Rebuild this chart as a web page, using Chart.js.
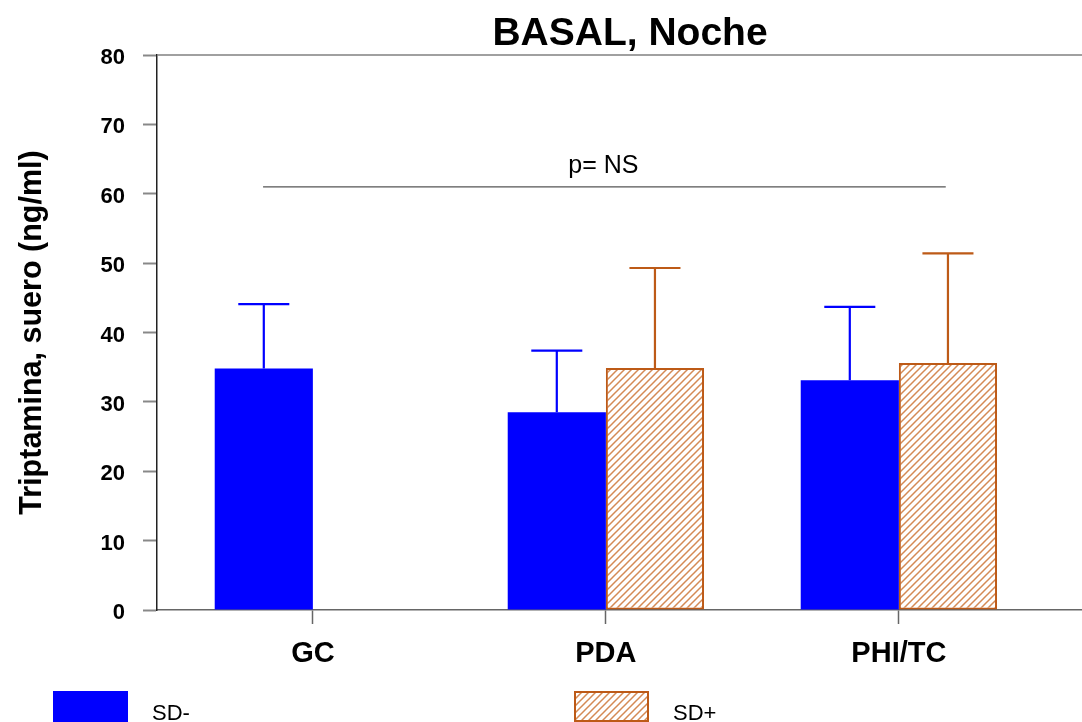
<!DOCTYPE html>
<html>
<head>
<meta charset="utf-8">
<script src="https://cdn.jsdelivr.net/npm/chart.js@4.4.1/dist/chart.umd.min.js"></script>
<style>
  html, body { margin: 0; padding: 0; background: #ffffff; }
  #wrap { width: 1082px; height: 722px; position: relative; }
</style>
</head>
<body>
<div id="wrap"><canvas id="c" width="1082" height="722"></canvas></div>
<script>
// Groups on the x axis
const categories = ['GC', 'PDA', 'PHI/TC'];
// Series names
const seriesNames = ['SD-', 'SD+'];
// Means and standard deviations (ng/ml)
const sdMinusMean = [34.8, 28.5, 33.1];
const sdMinusErr  = [9.3, 8.9, 10.6];
const sdPlusMean  = [null, 34.9, 35.6];
const sdPlusErr   = [null, 14.4, 15.8];
// Value axis ticks
const yTicks = [0, 10, 20, 30, 40, 50, 60, 70, 80];
// Significance bracket
const pValueText = 'p= NS';
const pValueLevel = 61;
const pValueSpan = [-0.17, 2.16];
// Texts
const titleText = 'BASAL, Noche';
const yTitleText = 'Triptamina, suero (ng/ml)';

const FONT = '"Liberation Sans", Arial, Helvetica, sans-serif';
const BLUE = '#0000ff';
const ORANGE = '#bd5a17';

function makeHatch() {
  const s = 7;
  const t = document.createElement('canvas');
  t.width = s; t.height = s;
  const g = t.getContext('2d');
  g.fillStyle = '#ffffff';
  g.fillRect(0, 0, s, s);
  g.strokeStyle = '#d48a55';
  g.lineWidth = 1.5;
  g.beginPath();
  g.moveTo(-1, s + 1); g.lineTo(s + 1, -1);
  g.moveTo(-1, 1); g.lineTo(1, -1);
  g.moveTo(s - 1, s + 1); g.lineTo(s + 1, s - 1);
  g.stroke();
  return g.createPattern(t, 'repeat');
}
const hatch = makeHatch();

const errorsBySeries = [sdMinusErr, sdPlusErr];
const meansBySeries = [sdMinusMean, sdPlusMean];

const decor = {
  id: 'decor',
  afterDatasetsDraw(chart) {
    const ctx = chart.ctx;
    const y = chart.scales.y;
    chart.data.datasets.forEach((ds, di) => {
      const meta = chart.getDatasetMeta(di);
      meta.data.forEach((bar, i) => {
        const m = meansBySeries[di][i];
        const e = errorsBySeries[di][i];
        if (m == null || e == null) return;
        const top = y.getPixelForValue(m + e);
        const base = y.getPixelForValue(m);
        const half = bar.width * 0.26;
        ctx.save();
        ctx.strokeStyle = ds.borderColor === 'transparent' ? ds.backgroundColor : ds.borderColor;
        ctx.lineWidth = 2.2;
        ctx.beginPath();
        ctx.moveTo(bar.x, base);
        ctx.lineTo(bar.x, top);
        ctx.moveTo(bar.x - half, top);
        ctx.lineTo(bar.x + half, top);
        ctx.stroke();
        ctx.restore();
      });
    });
  },
  afterDraw(chart) {
    const ctx = chart.ctx;
    const a = chart.chartArea;
    const x = chart.scales.x, y = chart.scales.y;
    ctx.save();
    // frame line along the top of the plot
    ctx.strokeStyle = '#808080';
    ctx.lineWidth = 1.5;
    ctx.beginPath();
    ctx.moveTo(a.left, a.top);
    ctx.lineTo(a.right, a.top);
    ctx.stroke();

    // title
    ctx.fillStyle = '#000';
    ctx.font = 'bold 39px ' + FONT;
    ctx.textAlign = 'center';
    ctx.textBaseline = 'alphabetic';
    ctx.fillText(titleText, 630, 45);

    // significance bracket
    const py = y.getPixelForValue(pValueLevel);
    ctx.strokeStyle = '#555';
    ctx.lineWidth = 1.3;
    ctx.beginPath();
    ctx.moveTo(x.getPixelForValue(pValueSpan[0]), py);
    ctx.lineTo(x.getPixelForValue(pValueSpan[1]), py);
    ctx.stroke();
    ctx.font = '25px ' + FONT;
    ctx.fillStyle = '#000';
    ctx.fillText(pValueText, x.getPixelForValue((pValueSpan[0] + pValueSpan[1]) / 2) - 1, py - 14);

    // legend
    const legendItems = [
      { x: 53, ds: chart.data.datasets[0] },
      { x: 574, ds: chart.data.datasets[1] }
    ];
    legendItems.forEach((it) => {
      const bx = it.x, by = 691, bw = 75, bh = 31;
      ctx.fillStyle = it.ds.backgroundColor;
      ctx.fillRect(bx, by, bw, bh);
      if (it.ds.borderWidth) {
        ctx.strokeStyle = it.ds.borderColor;
        ctx.lineWidth = 2;
        ctx.strokeRect(bx + 1, by + 1, bw - 2, bh - 2);
      }
      ctx.fillStyle = '#000';
      ctx.font = '22px ' + FONT;
      ctx.textAlign = 'left';
      ctx.fillText(it.ds.label, bx + bw + 24, 720);
    });
    ctx.restore();
  }
};

new Chart(document.getElementById('c'), {
  type: 'bar',
  data: {
    datasets: [
      {
        label: seriesNames[0],
        data: categories.map((c, i) => ({ x: i, y: sdMinusMean[i] })),
        backgroundColor: BLUE,
        borderColor: 'transparent',
        borderWidth: 0
      },
      {
        label: seriesNames[1],
        data: categories.map((c, i) => ({ x: i, y: sdPlusMean[i] })),
        backgroundColor: hatch,
        borderColor: ORANGE,
        borderWidth: 2,
        borderSkipped: false
      }
    ]
  },
  options: {
    responsive: false,
    animation: false,
    categoryPercentage: 0.67,
    barPercentage: 1.0,
    layout: { padding: { top: 55, right: 0, bottom: 0, left: 0 } },
    plugins: { legend: { display: false }, tooltip: { enabled: false }, title: { display: false } },
    scales: {
      x: {
        type: 'linear',
        min: -0.532,
        max: 2.625,
        offset: false,
        afterBuildTicks(s) { s.ticks = categories.map((c, i) => ({ value: i })); },
        afterFit(s) { s.height = 112; s.paddingLeft = 0; s.paddingRight = 0; },
        ticks: {
          callback: (v) => categories[v] ?? '',
          color: '#000',
          font: { family: FONT, size: 29, weight: 'bold' },
          padding: 13,
          maxRotation: 0,
          autoSkip: false
        },
        grid: { offset: false, drawOnChartArea: false, drawTicks: true, tickLength: 14, tickColor: '#666', tickWidth: 1.5 },
        border: { display: true, color: '#666', width: 1.5 }
      },
      y: {
        min: 0,
        max: 80,
        afterBuildTicks(s) { s.ticks = yTicks.map((v) => ({ value: v })); },
        afterFit(s) { s.width = 157; s.paddingTop = 0; s.paddingBottom = 0; },
        ticks: {
          color: '#000',
          font: { family: FONT, size: 22, weight: 'bold' },
          padding: 18,
          labelOffset: 3
        },
        grid: { drawOnChartArea: false, drawTicks: true, tickLength: 14, tickColor: '#888', tickWidth: 2 },
        border: { display: true, color: '#222', width: 1.5 },
        title: {
          display: true,
          text: yTitleText,
          color: '#000',
          font: { family: FONT, size: 30.5, weight: 'bold' },
          padding: { top: 14, bottom: 0 }
        }
      }
    }
  },
  plugins: [decor]
});
</script>
</body>
</html>
